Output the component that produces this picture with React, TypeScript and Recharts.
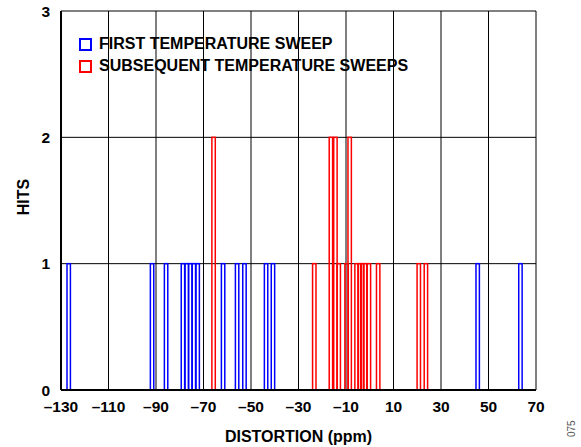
import React from 'react';
import { BarChart, Bar, XAxis, YAxis, CartesianGrid, Legend } from 'recharts';

const firstSweepPpm = [-126.7, -91.6, -85.7, -78.6, -77.0, -75.5, -74.0, -72.4, -61.7, -55.8, -52.7, -43.6, -40.7, 45.5, 63.5];
const firstSweepHits = [1, 1, 1, 1, 1, 1, 1, 1, 1, 1, 1, 1, 1, 1, 1];

const subsequentSweepPpm = [-65.7, -23.3, -16.3, -14.4, -13.0, -9.7, -8.4, -5.5, -4.2, -3.1, -1.9, -0.3, 3.6, 20.7, 23.7];
const subsequentSweepHits = [2, 1, 2, 2, 1, 1, 2, 1, 1, 1, 1, 1, 1, 1, 1];

const xTicks = [-130, -110, -90, -70, -50, -30, -10, 10, 30, 50, 70];
const yTicks = [0, 1, 2, 3];

const seriesNames = ['FIRST TEMPERATURE SWEEP', 'SUBSEQUENT TEMPERATURE SWEEPS'];
const seriesColors = ['#0000FF', '#FF0000'];

const data = [
  ...firstSweepPpm.map((x, i) => ({ x, hits: firstSweepHits[i], series: 0 })),
  ...subsequentSweepPpm.map((x, i) => ({ x, hits: subsequentSweepHits[i], series: 1 })),
].sort((a, b) => a.x - b.x);

const FONT = 'Arial, "Liberation Sans", Helvetica, sans-serif';

const OutlineBar = (props: any) => {
  const { x, y, width, height, payload } = props;
  if (!height || height <= 0) return null;
  const w = 3.4;
  const cx = x + width / 2;
  const color = seriesColors[payload?.series ?? 0];
  return (
    <rect x={cx - w / 2} y={y} width={w} height={height} fill="none" stroke={color} strokeWidth={1.5} />
  );
};

const fmtX = (v: number) => (v < 0 ? '\u2013' + Math.abs(v) : String(v));

const LegendContent = () => (
  <div style={{ fontFamily: FONT, fontWeight: 'bold', fontSize: 16, color: '#000', lineHeight: '22px' }}>
    {seriesNames.map((name, i) => (
      <div key={name} style={{ display: 'flex', alignItems: 'center', whiteSpace: 'nowrap' }}>
        <span
          style={{
            display: 'inline-block',
            width: 9,
            height: 9,
            border: `2px solid ${seriesColors[i]}`,
            marginRight: 7,
          }}
        />
        <span>{name}</span>
      </div>
    ))}
  </div>
);

export default function App() {
  return (
    <div style={{ position: 'absolute', left: 0, top: 0, width: 581, height: 447, background: '#fff' }}>
      <BarChart
        width={581}
        height={447}
        data={data}
        margin={{ top: 11, right: 45, left: 0, bottom: 0 }}
      >
        <CartesianGrid stroke="#000" strokeWidth={1} vertical horizontal />
        <XAxis
          type="number"
          dataKey="x"
          domain={[-130, 70]}
          ticks={xTicks}
          tickFormatter={fmtX}
          interval={0}
          height={57}
          tickSize={0}
          tickMargin={11}
          axisLine={{ stroke: '#000', strokeWidth: 2 }}
          tick={{ fill: '#000', fontFamily: FONT, fontWeight: 'bold', fontSize: 15.5 }}
          label={{
            value: 'DISTORTION (ppm)',
            position: 'insideBottom',
            offset: 5,
            style: { fill: '#000', fontFamily: FONT, fontWeight: 'bold', fontSize: 16 },
          }}
        />
        <YAxis
          type="number"
          domain={[0, 3]}
          ticks={yTicks}
          interval={0}
          width={61}
          tickSize={0}
          tickMargin={11}
          axisLine={{ stroke: '#000', strokeWidth: 2 }}
          tick={{ fill: '#000', fontFamily: FONT, fontWeight: 'bold', fontSize: 15.5 }}
          label={{
            value: 'HITS',
            content: () => (
              <text
                transform="translate(23,197) rotate(-90)"
                textAnchor="middle"
                dominantBaseline="central"
                fill="#000"
                style={{ fontFamily: FONT, fontWeight: 'bold', fontSize: 16 }}
              >
                HITS
              </text>
            ),
          }}
        />
        <XAxis
          xAxisId="top"
          orientation="top"
          type="number"
          domain={[-130, 70]}
          ticks={xTicks}
          height={0}
          tick={false}
          tickLine={false}
          axisLine={{ stroke: '#000', strokeWidth: 2 }}
        />
        <YAxis
          yAxisId="right"
          orientation="right"
          type="number"
          domain={[0, 3]}
          width={0}
          tick={false}
          tickLine={false}
          axisLine={{ stroke: '#000', strokeWidth: 2 }}
        />
        <Legend
          layout="vertical"
          align="center"
          verticalAlign="middle"
          content={LegendContent}
          wrapperStyle={{ position: 'absolute', left: 79, top: 33, width: 'auto' }}
        />
        <Bar dataKey="hits" barSize={4} shape={OutlineBar} isAnimationActive={false} />
      </BarChart>
      <div
        style={{
          position: 'absolute',
          left: 566,
          top: 437,
          transform: 'rotate(-90deg)',
          transformOrigin: 'left top',
          fontFamily: FONT,
          fontSize: 10,
          color: '#555',
          whiteSpace: 'nowrap',
        }}
      >
        075
      </div>
    </div>
  );
}
